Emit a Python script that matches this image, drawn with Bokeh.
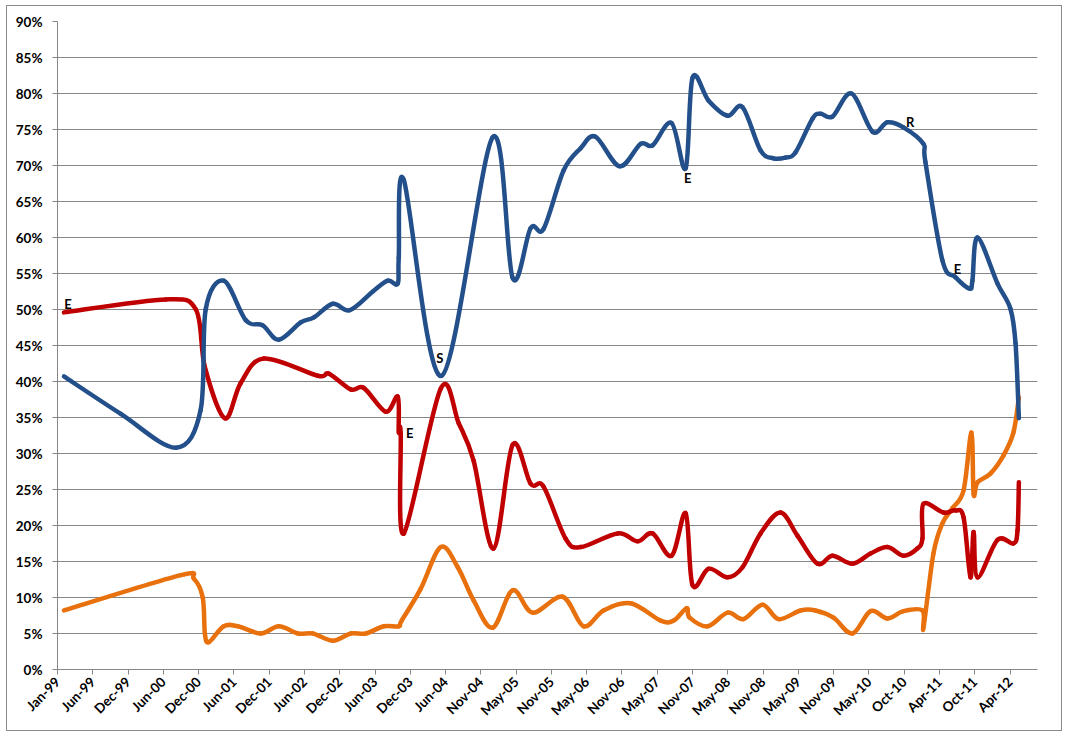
import math
import numpy as np
import pandas as pd
from bokeh.plotting import figure
from bokeh.models import ColumnDataSource, FixedTicker, NumeralTickFormatter, Range1d, DatetimeTickFormatter
from bokeh.core.properties import value
from bokeh.embed import file_html
from bokeh.resources import INLINE

# ---- data (percent) ----
blue_dates = ["1999-02-03", "1999-11-20", "2000-08-27", "2000-12-31", "2001-01-26", "2001-04-28",
              "2001-08-19", "2001-11-13", "2002-02-03", "2002-05-26", "2002-08-01", "2002-11-06",
              "2003-01-31", "2003-05-29", "2003-08-13", "2003-10-03", "2003-10-08", "2003-11-03",
              "2004-05-14", "2005-01-29", "2005-05-11", "2005-08-11", "2005-10-16", "2006-01-26",
              "2006-04-23", "2006-07-08", "2006-11-08", "2007-02-23", "2007-04-25", "2007-07-31",
              "2007-10-11", "2007-11-15", "2008-02-05", "2008-05-12", "2008-07-27", "2008-10-27",
              "2009-01-01", "2009-03-03", "2009-04-23", "2009-07-19", "2009-08-29", "2009-10-29",
              "2010-02-03", "2010-05-21", "2010-08-05", "2010-10-26", "2011-02-05", "2011-02-15",
              "2011-05-13", "2011-07-18", "2011-09-28", "2011-10-13", "2011-11-08", "2012-02-18",
              "2012-04-24", "2012-05-20", "2012-06-06"]
blue_vals = [40.7, 35.5, 30.8, 36.0, 50.0, 54.0, 48.5, 47.8, 45.8, 48.2, 48.9, 50.8,
             49.9, 52.5, 54.0, 53.6, 57.2, 68.0, 40.8, 73.9, 54.4, 61.3, 61.2, 69.3,
             72.4, 74.0, 69.9, 73.0, 72.8, 75.9, 69.6, 82.2, 79.0, 76.9, 78.1, 72.1,
             71.0, 71.1, 71.8, 76.5, 77.2, 76.8, 80.0, 74.7, 76.0, 75.3, 73.0, 70.5,
             56.8, 54.5, 52.9, 54.0, 60.0, 53.6, 50.1, 45.3, 34.9]

red_dates = ["1999-02-03", "2000-07-07", "2000-12-07", "2001-01-22", "2001-05-04", "2001-07-24",
             "2001-11-19", "2002-08-21", "2002-10-16", "2003-02-05", "2003-04-13", "2003-08-03",
             "2003-10-03", "2003-10-08", "2003-10-18", "2003-11-03", "2004-05-09", "2004-08-09",
             "2004-10-24", "2005-02-03", "2005-05-11", "2005-08-11", "2005-10-16", "2006-02-05",
             "2006-04-23", "2006-10-29", "2007-02-08", "2007-04-25", "2007-07-31", "2007-10-11",
             "2007-11-15", "2008-02-05", "2008-05-12", "2008-07-27", "2008-10-27", "2009-02-06",
             "2009-05-03", "2009-08-13", "2009-10-29", "2010-02-08", "2010-05-11", "2010-08-05",
             "2010-10-26", "2011-01-05", "2011-01-31", "2011-02-05", "2011-05-18", "2011-07-18",
             "2011-08-29", "2011-10-03", "2011-10-19", "2011-11-08", "2012-02-18", "2012-05-09",
             "2012-05-30", "2012-06-06"]
red_vals = [49.6, 51.4, 50.0, 42.0, 34.9, 39.8, 43.2, 40.8, 41.1, 38.9, 39.1, 35.8,
            37.9, 33.0, 32.8, 18.9, 39.0, 34.2, 29.0, 16.8, 31.2, 25.8, 25.4, 18.2,
            17.0, 18.9, 17.8, 18.9, 15.8, 21.7, 11.7, 14.0, 12.8, 14.2, 18.9, 21.8,
            18.6, 14.7, 15.8, 14.7, 16.1, 17.0, 15.8, 16.8, 18.2, 23.0, 21.8, 22.1,
            21.1, 12.8, 19.1, 12.8, 18.0, 17.5, 19.3, 26.0]

orange_dates = ["1999-02-03", "2000-09-21", "2000-11-27", "2001-01-11", "2001-01-22", "2001-02-11",
                "2001-04-28", "2001-07-09", "2001-11-03", "2002-02-03", "2002-05-12", "2002-07-27",
                "2002-11-06", "2003-02-05", "2003-04-23", "2003-07-24", "2003-10-08", "2003-10-23",
                "2004-01-28", "2004-05-09", "2004-08-04", "2004-10-24", "2005-01-29", "2005-05-11",
                "2005-08-21", "2006-01-21", "2006-05-08", "2006-08-18", "2007-01-03", "2007-06-05",
                "2007-08-11", "2007-10-16", "2007-10-31", "2008-01-31", "2008-05-12", "2008-08-01",
                "2008-11-06", "2009-01-27", "2009-05-19", "2009-08-03", "2009-11-03", "2010-02-08",
                "2010-05-11", "2010-08-05", "2010-10-26", "2011-01-31", "2011-02-05", "2011-03-28",
                "2011-05-13", "2011-07-03", "2011-08-29", "2011-10-08", "2011-10-19", "2011-11-08",
                "2012-01-13", "2012-03-19", "2012-05-09", "2012-06-06"]
orange_vals = [8.2, 13.1, 12.6, 10.0, 5.0, 3.8, 6.0, 6.0, 5.0, 6.0, 5.0, 5.0,
               4.0, 5.0, 5.0, 6.0, 6.0, 6.8, 11.2, 17.0, 14.2, 9.6, 5.8, 11.0,
               7.9, 10.1, 6.0, 8.2, 9.2, 6.8, 6.8, 8.5, 7.2, 6.0, 7.9, 7.0,
               9.0, 7.0, 8.2, 8.2, 7.2, 5.0, 8.1, 7.1, 8.1, 8.2, 5.8, 16.1,
               20.3, 22.4, 24.9, 32.9, 24.4, 26.0, 27.2, 29.7, 32.9, 37.8]

# event markers written on the chart
label_dates = ["1999-02-23", "2003-12-03", "2004-05-04", "2007-10-21", "2010-11-30", "2011-07-29"]
label_vals = [50.8, 32.9, 43.2, 68.2, 76.1, 55.6]
label_text = ["E", "E", "S", "E", "R", "E"]

tick_labels = ["Jan-99", "Jun-99", "Dec-99", "Jun-00", "Dec-00", "Jun-01", "Dec-01", "Jun-02",
               "Dec-02", "Jun-03", "Dec-03", "Jun-04", "Nov-04", "May-05", "Nov-05", "May-06",
               "Nov-06", "May-07", "Nov-07", "May-08", "Nov-08", "May-09", "Nov-09", "May-10",
               "Oct-10", "Apr-11", "Oct-11", "Apr-12"]

DAY = 86400000
start = pd.Timestamp("1999-01-01")


def to_ms(dates):
    return ((pd.to_datetime(dates) - pd.Timestamp("1970-01-01")) // pd.Timedelta(milliseconds=1)).to_numpy(dtype=float)


def smooth_source(dates, vals):
    # Excel-style smoothed line: cubic Bezier segments through each point
    x = to_ms(dates)
    y = np.array(vals) / 100.0
    xp = np.concatenate([[x[0]], x, [x[-1]]])
    yp = np.concatenate([[y[0]], y, [y[-1]]])
    n = len(x)
    x0, x1, x2, x3 = xp[0:n - 1], xp[1:n], xp[2:n + 1], xp[3:n + 2]
    y0, y1, y2, y3 = yp[0:n - 1], yp[1:n], yp[2:n + 1], yp[3:n + 2]
    return ColumnDataSource(dict(
        xa=x1, ya=y1, xb=x2, yb=y2,
        cx0=x1 + (x2 - x0) / 6, cy0=y1 + (y2 - y0) / 6,
        cx1=x2 - (x3 - x1) / 6, cy1=y2 - (y3 - y1) / 6,
    ))


start_ms = int(to_ms([start])[0])
tick_ms = [start_ms + k * 180 * DAY for k in range(len(tick_labels))]

p = figure(
    width=1056, height=726,
    x_axis_type="datetime",
    x_range=Range1d(start_ms, start_ms + 5000 * DAY),
    y_range=Range1d(0, 0.9),
    output_backend="svg",
    toolbar_location=None,
    min_border_left=50, min_border_right=26, min_border_top=15, min_border_bottom=63,
)
p.styles = {"border": "1px solid #898989", "margin-left": "6px", "margin-top": "5px"}
p.outline_line_color = None

grey = "#868686"
p.xgrid.grid_line_color = None
p.ygrid.grid_line_color = grey
p.ygrid.grid_line_width = 1

p.yaxis.ticker = FixedTicker(ticks=[i * 0.05 for i in range(19)])
p.yaxis.formatter = NumeralTickFormatter(format="0%")
p.xaxis.ticker = FixedTicker(ticks=tick_ms)
p.xaxis.formatter = DatetimeTickFormatter(days="%b-%y", months="%b-%y", years="%b-%y")
p.xaxis.major_label_overrides = dict(zip(tick_ms, tick_labels))
p.xaxis.major_label_orientation = math.pi / 4

for ax in (p.xaxis, p.yaxis):
    ax.axis_line_color = grey
    ax.major_tick_line_color = grey
    ax.major_tick_in = 0
    ax.major_tick_out = 5
    ax.minor_tick_line_color = None
    ax.major_label_text_font = "Lato"
    ax.major_label_text_font_style = "bold"
    ax.major_label_text_font_size = "13.5px"
    ax.major_label_text_color = "black"
p.yaxis.major_label_standoff = 10

for dates, vals, color in [
    (orange_dates, orange_vals, "#E8710E"),
    (red_dates, red_vals, "#C00000"),
    (blue_dates, blue_vals, "#23508A"),
]:
    p.bezier(x0="xa", y0="ya", x1="xb", y1="yb", cx0="cx0", cy0="cy0", cx1="cx1", cy1="cy1",
             source=smooth_source(dates, vals), line_color=color, line_width=4.5, line_cap="round")

labels = ColumnDataSource(dict(x=to_ms(label_dates), y=np.array(label_vals) / 100.0, t=label_text))
p.text(x="x", y="y", text="t", source=labels, text_font=value("Lato"), text_font_size="13px",
       text_font_style="bold", text_color="black", text_align="center", text_baseline="middle")

open("out.html", "w").write(file_html(p, INLINE))
